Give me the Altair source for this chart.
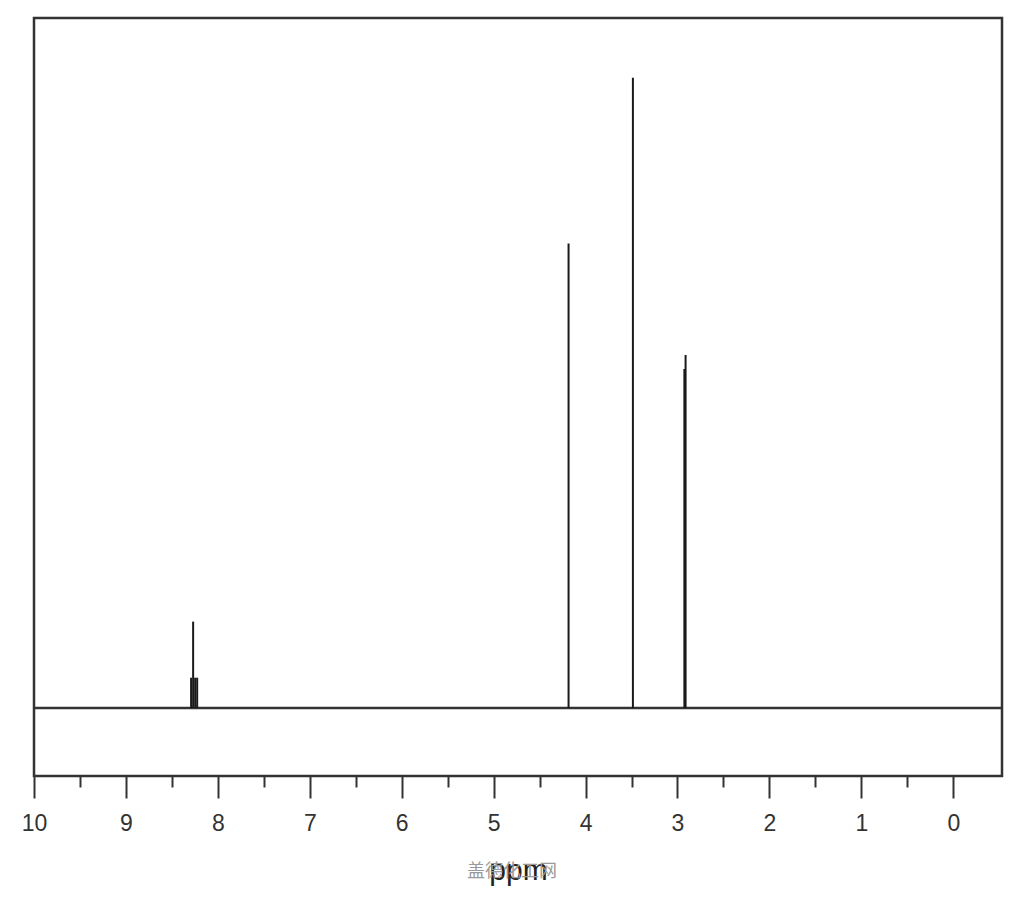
import altair as alt
import pandas as pd

# Stick spectrum (ppm, relative intensity)
peak_ppm = [8.291, 8.269, 8.247, 8.225, 4.185, 3.485, 2.925, 2.912]
peak_height = [0.048, 0.137, 0.048, 0.048, 0.737, 1.0, 0.538, 0.560]

major_ticks = [10, 9, 8, 7, 6, 5, 4, 3, 2, 1, 0]
minor_ticks = [9.5, 8.5, 7.5, 6.5, 5.5, 4.5, 3.5, 2.5, 1.5, 0.5]
baseline_level = [0]
watermark = ["盖德化工网"]
watermark_ppm = [4.80]

W, H = 968, 758
xscale = alt.Scale(domain=[-0.53, 10], reverse=True, nice=False, zero=False)
yscale = alt.Scale(domain=[-0.108, 1.095], nice=False, zero=False)

peaks_df = pd.DataFrame({"ppm": peak_ppm, "h": peak_height, "base": [0] * len(peak_ppm)})
minor_df = pd.DataFrame({"ppm": minor_ticks, "y": [0] * len(minor_ticks)})
base_df = pd.DataFrame({"y": baseline_level})
wm_df = pd.DataFrame({"ppm": watermark_ppm, "t": watermark})

FONT = "Liberation Sans"

spectrum = alt.Chart(peaks_df).mark_rule(color="#1a1a1a", strokeWidth=2).encode(
    x=alt.X(
        "ppm:Q",
        scale=xscale,
        axis=alt.Axis(
            values=major_ticks,
            orient="bottom",
            format="d",
            tickSize=22,
            tickWidth=2,
            tickColor="#333333",
            domain=False,
            grid=False,
            labelFlush=False,
            labelFont=FONT,
            labelFontSize=23,
            labelColor="#333333",
            labelPadding=14,
            title="ppm",
            titleFont=FONT,
            titleFontSize=30,
            titleFontWeight="normal",
            titleColor="#222222",
            titlePadding=20,
        ),
    ),
    y=alt.Y("base:Q", scale=yscale, axis=None),
    y2="h:Q",
)

minor = alt.Chart(minor_df).mark_point(opacity=0).encode(
    x=alt.X(
        "ppm:Q",
        scale=xscale,
        axis=alt.Axis(
            values=minor_ticks,
            orient="bottom",
            tickSize=11,
            tickWidth=2,
            tickColor="#333333",
            labels=False,
            domain=False,
            grid=False,
            title="",
        ),
    ),
    y=alt.Y("y:Q", scale=yscale, axis=None),
)

baseline = alt.Chart(base_df).mark_rule(color="#333333", strokeWidth=2.5).encode(
    y=alt.Y("y:Q", scale=yscale, axis=None)
)

wm = alt.Chart(wm_df).mark_text(
    font="Noto Sans CJK SC", fontSize=18, color="#9a9a9a", baseline="middle", align="center"
).encode(
    x=alt.X("ppm:Q", scale=xscale, axis=None),
    y=alt.value(H + 96),
    text="t:N",
)

chart = (
    alt.layer(baseline, spectrum, minor, wm)
    .resolve_axis(x="independent")
    .properties(
        width=W,
        height=H,
        autosize=alt.AutoSizeParams(type="none"),
        padding={"left": 26, "top": 10, "right": 10, "bottom": 110},
        background="white",
    )
    .configure_view(stroke="#333333", strokeWidth=2.5)
)

chart.save("out.html", embed_options={"renderer": "svg", "actions": False})
